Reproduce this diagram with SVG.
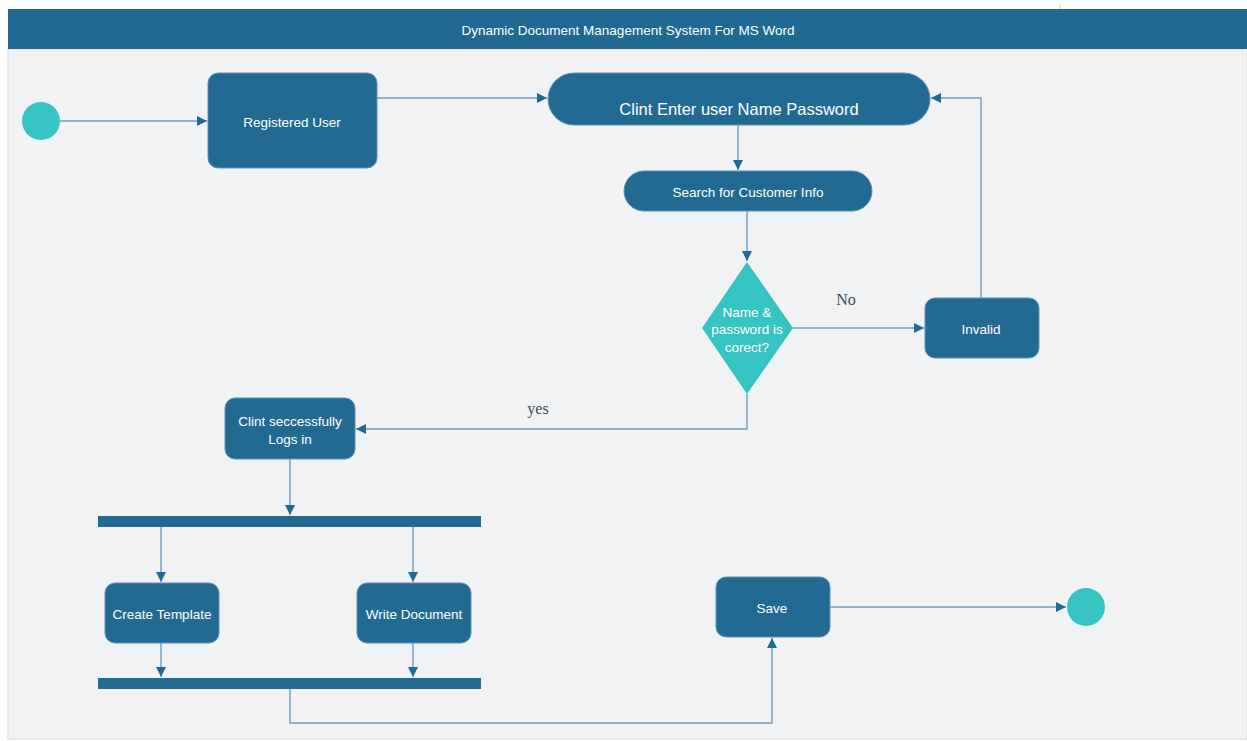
<svg xmlns="http://www.w3.org/2000/svg" width="1247" height="741" viewBox="0 0 1247 741">
  <defs>
    <marker id="arrow" viewBox="0 0 10 10" refX="10" refY="5" markerWidth="10" markerHeight="10" markerUnits="userSpaceOnUse" orient="auto">
      <path d="M0,0 L10,5 L0,10 Z" fill="#236a93"/>
    </marker>
    <style>
      .node { fill: #236a93; stroke: #5d92b5; stroke-width: 1; }
      .term { fill: #36c4c3; }
      .bar { fill: #236a93; }
      .lbl { fill: #ffffff; font-family: "Liberation Sans", Arial, sans-serif; font-size: 13.5px; text-anchor: middle; }
      .big { font-size: 16.5px; }
      .conn { fill: none; stroke: #6f9dbd; stroke-width: 1.4; }
      .guard { fill: #3a4a57; font-family: "Liberation Serif", "Times New Roman", serif; font-size: 16px; text-anchor: middle; }
    </style>
  </defs>

  <!-- canvas -->
  <rect x="0" y="0" width="1247" height="741" fill="#ffffff"/>
  <rect x="8" y="49" width="1239" height="690" fill="#f1f2f4" stroke="#d4d9de" stroke-width="1"/>
  <line x1="1060" y1="4" x2="1060" y2="9" stroke="#cfd3d7" stroke-width="1"/>

  <!-- title bar -->
  <g id="title">
    <rect x="8" y="9" width="1239" height="40" fill="#216892"/>
    <text x="628" y="35" class="lbl">Dynamic Document Management System For MS Word</text>
  </g>

  <!-- connectors -->
  <g id="connectors">
    <path class="conn" d="M60,121 H207" marker-end="url(#arrow)"/>
    <path class="conn" d="M377,98 H547" marker-end="url(#arrow)"/>
    <path class="conn" d="M738,125 V170" marker-end="url(#arrow)"/>
    <path class="conn" d="M747,211 V261" marker-end="url(#arrow)"/>
    <path class="conn" d="M793,328 H924" marker-end="url(#arrow)"/>
    <path class="conn" d="M981,298 V98 H931" marker-end="url(#arrow)"/>
    <path class="conn" d="M747,394 V429 H356" marker-end="url(#arrow)"/>
    <path class="conn" d="M290,459 V515" marker-end="url(#arrow)"/>
    <path class="conn" d="M161,527 V582" marker-end="url(#arrow)"/>
    <path class="conn" d="M413,527 V582" marker-end="url(#arrow)"/>
    <path class="conn" d="M161,643 V677" marker-end="url(#arrow)"/>
    <path class="conn" d="M413,643 V677" marker-end="url(#arrow)"/>
    <path class="conn" d="M290,689 V723 H772 V638" marker-end="url(#arrow)"/>
    <path class="conn" d="M830,607 H1066" marker-end="url(#arrow)"/>
    <text x="846" y="305" class="guard">No</text>
    <text x="538" y="414" class="guard">yes</text>
  </g>

  <g id="start">
    <circle cx="41" cy="121" r="19" class="term"/>
  </g>

  <g id="registered-user">
    <rect x="208" y="73" width="169" height="95" rx="10" class="node"/>
    <text x="292" y="127" class="lbl">Registered User</text>
  </g>

  <g id="enter-credentials">
    <rect x="548" y="73" width="382" height="52" rx="26" class="node"/>
    <text x="739" y="115" class="lbl big">Clint Enter user Name Password</text>
  </g>

  <g id="search-customer">
    <rect x="624" y="171" width="248" height="40" rx="20" class="node"/>
    <text x="748" y="197" class="lbl">Search for Customer Info</text>
  </g>

  <g id="check-credentials">
    <polygon points="747,262 793,328 747,394 702,328" class="term"/>
    <text x="747" y="317" class="lbl">Name &amp;</text>
    <text x="747" y="334" class="lbl">password is</text>
    <text x="747" y="352" class="lbl">corect?</text>
  </g>

  <g id="invalid">
    <rect x="925" y="298" width="114" height="60" rx="10" class="node"/>
    <text x="981" y="334" class="lbl">Invalid</text>
  </g>

  <g id="logged-in">
    <rect x="225" y="398" width="130" height="61" rx="10" class="node"/>
    <text x="290" y="426" class="lbl">Clint seccessfully</text>
    <text x="290" y="444" class="lbl">Logs in</text>
  </g>

  <g id="fork">
    <rect x="98" y="516" width="383" height="11" class="bar"/>
  </g>

  <g id="create-template">
    <rect x="105" y="583" width="114" height="60" rx="10" class="node"/>
    <text x="162" y="619" class="lbl">Create Template</text>
  </g>

  <g id="write-document">
    <rect x="357" y="583" width="114" height="60" rx="10" class="node"/>
    <text x="414" y="619" class="lbl">Write Document</text>
  </g>

  <g id="join">
    <rect x="98" y="678" width="383" height="11" class="bar"/>
  </g>

  <g id="save">
    <rect x="716" y="577" width="114" height="60" rx="10" class="node"/>
    <text x="772" y="613" class="lbl">Save</text>
  </g>

  <g id="end">
    <circle cx="1086" cy="607" r="19" class="term"/>
  </g>
</svg>
